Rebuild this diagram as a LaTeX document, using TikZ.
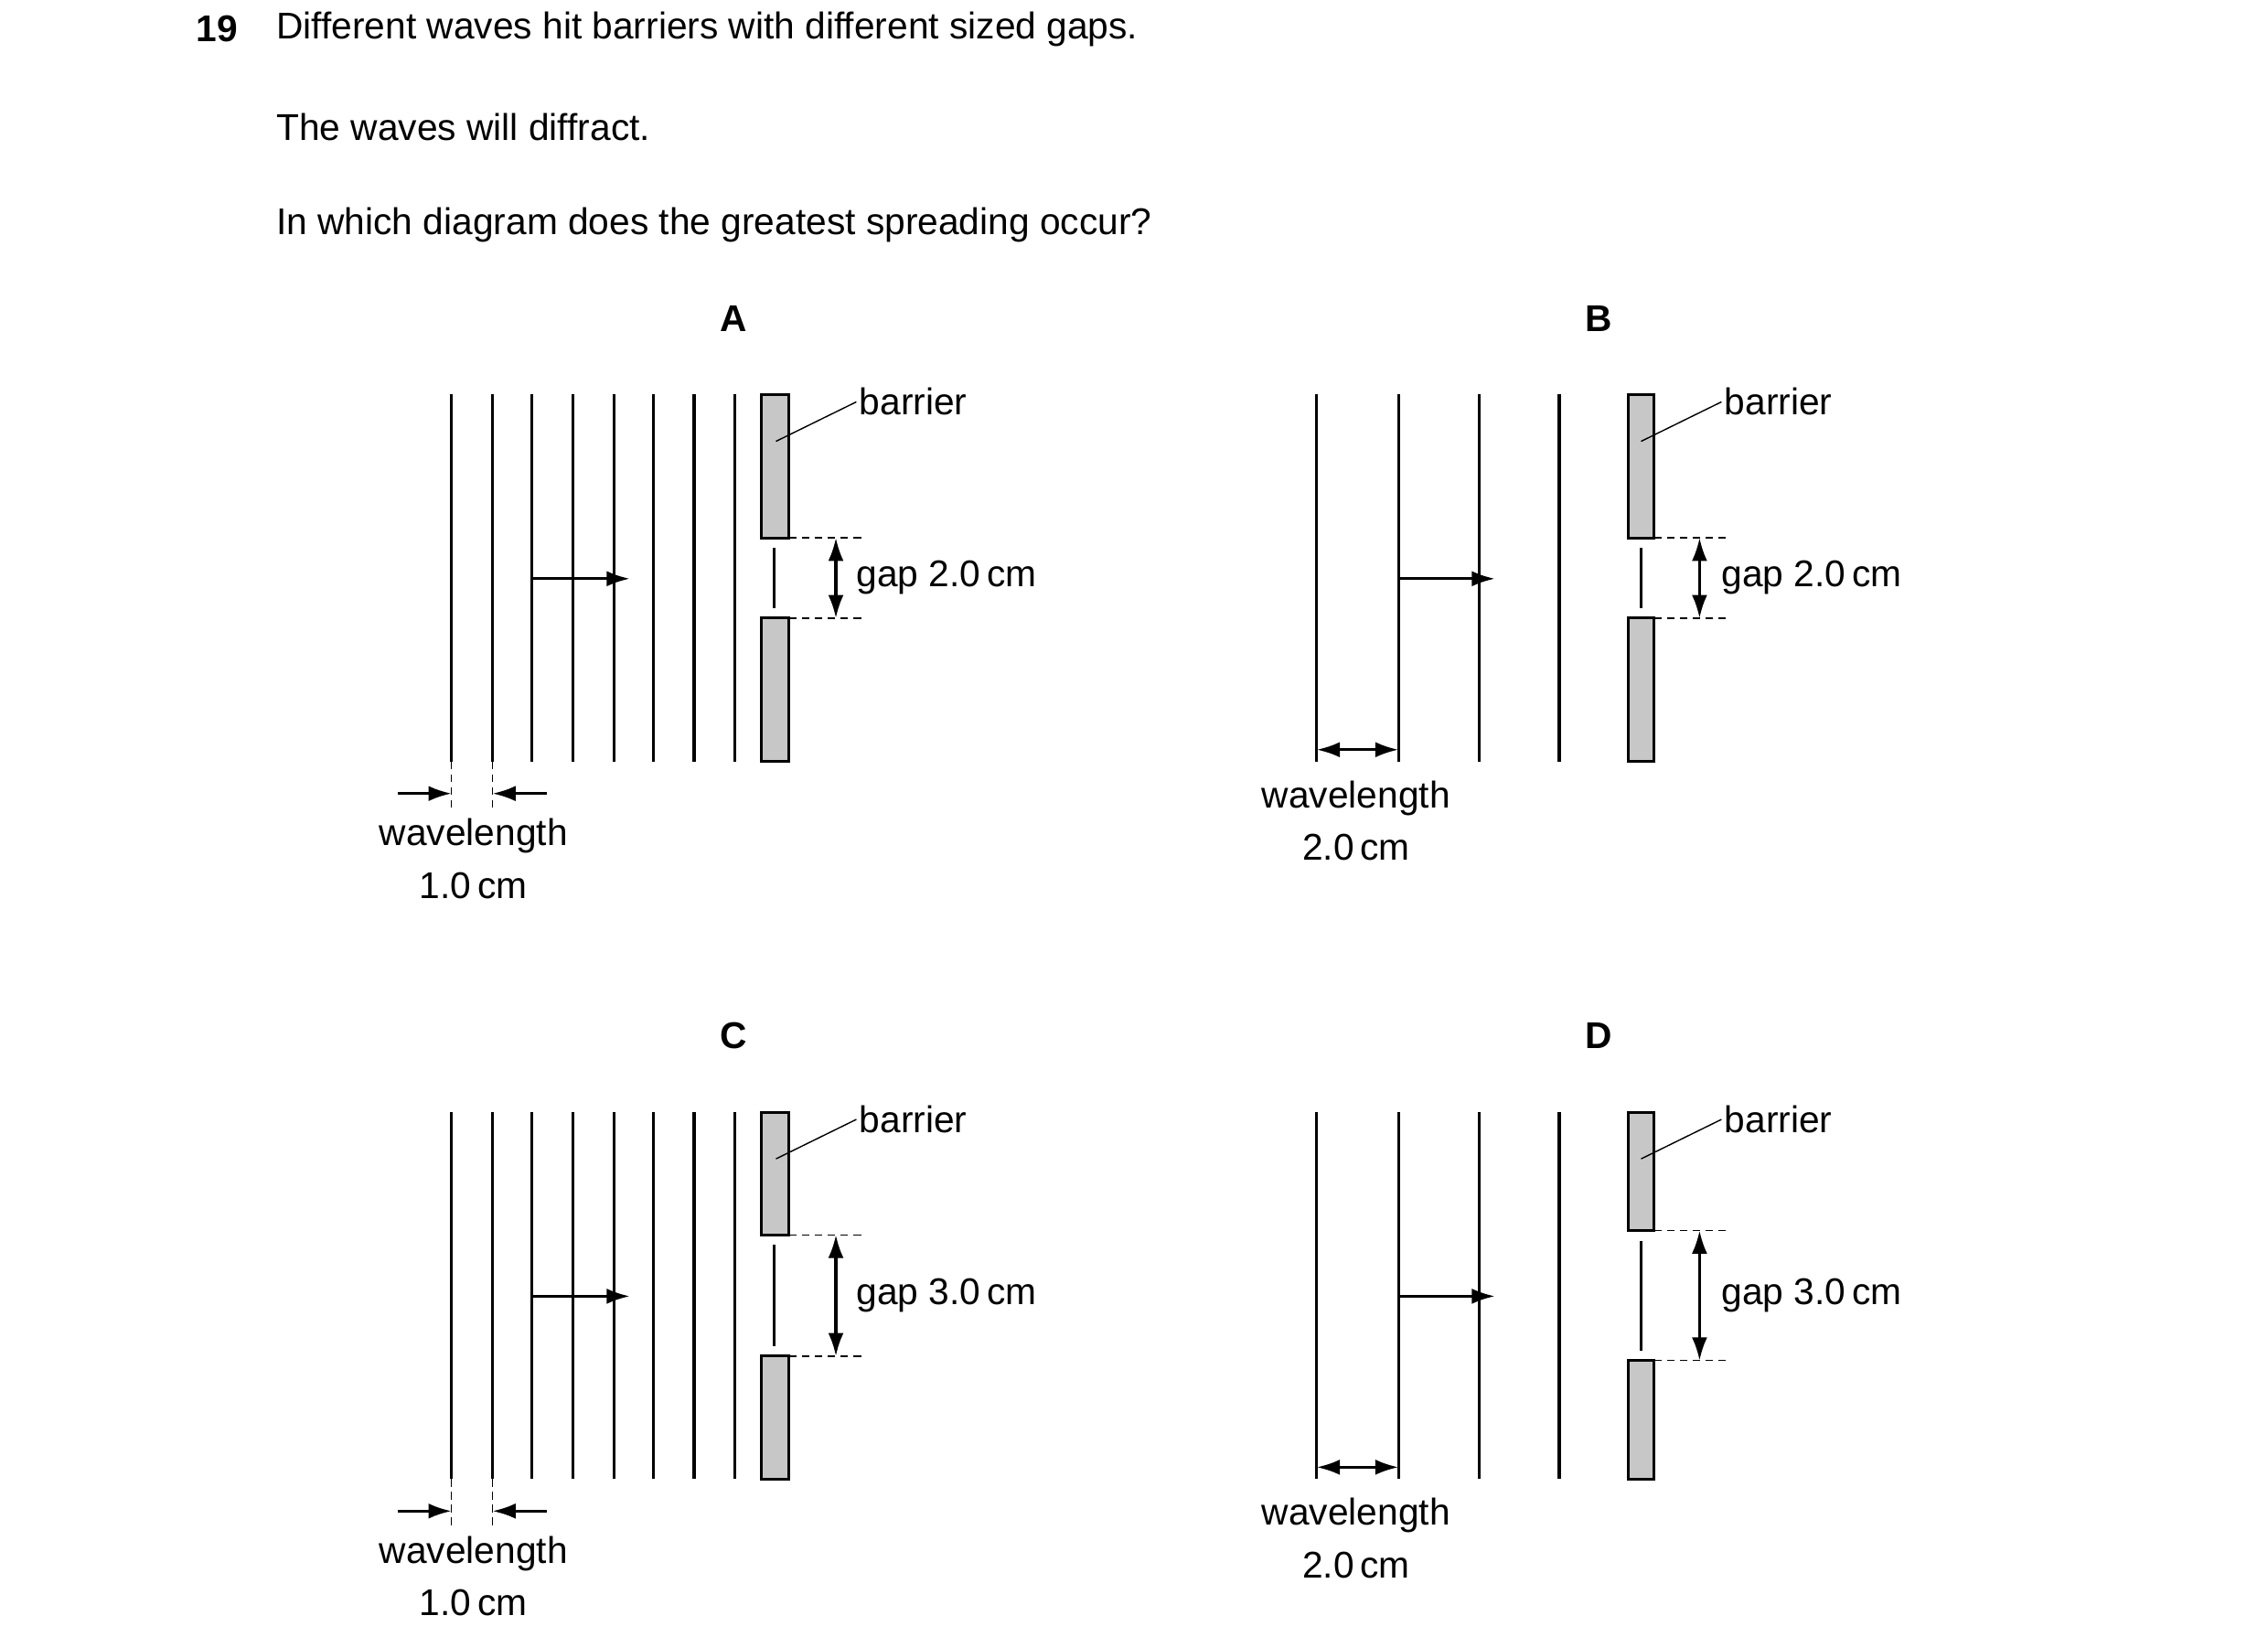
\documentclass[tikz,border=0pt]{standalone}
\usepackage{fontspec}
\setmainfont{Liberation Sans}
\usetikzlibrary{arrows.meta,positioning}
\begin{document}
\begin{tikzpicture}[x=0.02cm,y=-0.02cm,font=\fontsize{14.5}{17}\selectfont,
  wave/.style={line width=1.1pt},
  bar/.style={draw=black,fill=black!22,line width=1.1pt},
  dim/.style={densely dashed,line width=0.5pt},
  tip/.style={line width=1.1pt,-{Latex[length=9pt,width=6pt]}},
  tips/.style={line width=1.1pt,{Latex[length=9pt,width=6pt]}-{Latex[length=9pt,width=6pt]}},
  lbl/.style={anchor=west,inner sep=1pt}]
\useasboundingbox (0,0) rectangle (1552,1120);

\node[anchor=west,font=\fontsize{14.5}{17}\selectfont\bfseries] (num) at (128,20) {19};
\node[anchor=west] (q1) at (183,20) {Different waves hit barriers with different sized gaps.};
\node[anchor=west] (q2) at (183,87) {The waves will diffract.};
\node[anchor=west] (q3) at (183,154) {In which diagram does the greatest spreading occur?};

% A and C: wavelength 1.0 cm
\foreach \dy/\name/\gt/\gb in {0/A/368/423,491/C/354/437}{
\begin{scope}[yshift=-\dy*0.02cm]
\node[font=\fontsize{14.5}{17}\selectfont\bfseries] (t\name) at (502,218) {\name};
\foreach \x in {309,337,364,392,420,447,475,503}
  \draw[wave] (\x,270) -- (\x,521);
\draw[bar] (521,270) rectangle (540,\gt);
\draw[bar] (521,\gb) rectangle (540,521);
\draw[line width=1.1pt] (530,\gt+7) -- (530,\gb-7);
\coordinate (gt) at (540,\gt);
\coordinate (gb) at (540,\gb);
\coordinate (gt2) at (590,\gt);
\coordinate (gb2) at (590,\gb);
\draw[dim] (gt) -- (gt2);
\draw[dim] (gb) -- (gb2);
\draw[tips] (572,\gt) -- (572,\gb);
\node[lbl] (gap) at (584,{(\gt+\gb)/2}) {gap \ifnum\dy=0 2.0\else 3.0\fi\,cm};
\coordinate (w0) at (364,396);
\coordinate (w1) at (431,396);
\draw[tip] (w0) -- (w1);
\node[lbl] (bar) at (586,275) {barrier};
\coordinate (bp) at (531,302);
\draw[line width=0.5pt] (bp) -- (bar.west);
\draw[dim] (309,521) -- (309,553);
\draw[dim] (337,521) -- (337,553);
\coordinate (l0) at (272,543);
\coordinate (l1) at (309,543);
\coordinate (r0) at (374,543);
\coordinate (r1) at (337,543);
\draw[tip] (l0) -- (l1);
\draw[tip] (r0) -- (r1);
\node (wl) at (324,572) {wavelength};
\node (wv) at (324,606) {1.0\,cm};
\end{scope}}

% B and D: wavelength 2.0 cm
\foreach \dy/\name/\gt/\gb in {0/B/368/423,491/D/351/440}{
\begin{scope}[yshift=-\dy*0.02cm]
\node[font=\fontsize{14.5}{17}\selectfont\bfseries] (t\name) at (1094,218) {\name};
\foreach \x in {901,957,1012,1067}
  \draw[wave] (\x,270) -- (\x,521);
\draw[bar] (1114,270) rectangle (1132,\gt);
\draw[bar] (1114,\gb) rectangle (1132,521);
\draw[line width=1.1pt] (1123,\gt+7) -- (1123,\gb-7);
\coordinate (gt) at (1132,\gt);
\coordinate (gb) at (1132,\gb);
\coordinate (gt2) at (1182,\gt);
\coordinate (gb2) at (1182,\gb);
\draw[dim] (gt) -- (gt2);
\draw[dim] (gb) -- (gb2);
\draw[tips] (1163,\gt) -- (1163,\gb);
\node[lbl] (gap) at (1176,{(\gt+\gb)/2}) {gap \ifnum\dy=0 2.0\else 3.0\fi\,cm};
\coordinate (w0) at (957,396);
\coordinate (w1) at (1023,396);
\draw[tip] (w0) -- (w1);
\node[lbl] (bar) at (1178,275) {barrier};
\coordinate (bp) at (1123,302);
\draw[line width=0.5pt] (bp) -- (bar.west);
\coordinate (l0) at (901,513);
\coordinate (l1) at (957,513);
\draw[tips] (l0) -- (l1);
\node (wl) at (928,546) {wavelength};
\node (wv) at (928,580) {2.0\,cm};
\end{scope}}
\end{tikzpicture}
\end{document}
